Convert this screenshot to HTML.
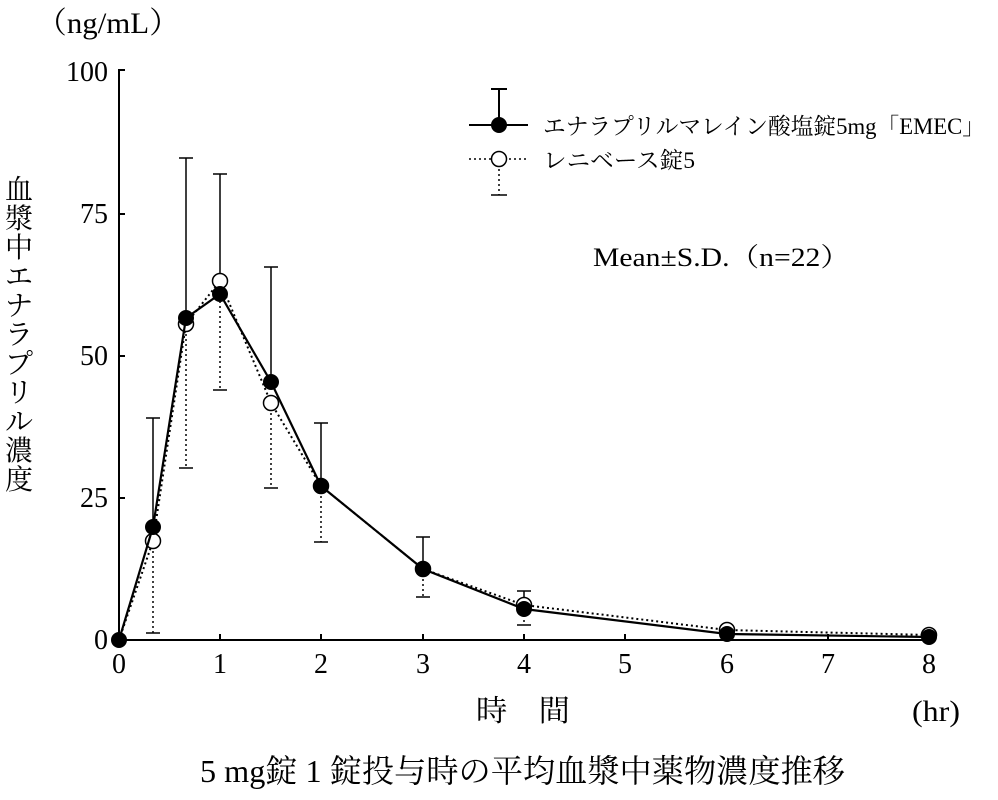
<!DOCTYPE html>
<html><head><meta charset="utf-8"><style>
body{margin:0;background:#fff;}
svg text{font-family:"Liberation Serif","Noto Serif CJK SC",serif;fill:#000;}
</style></head><body>
<svg width="998" height="795" viewBox="0 0 998 795" xmlns="http://www.w3.org/2000/svg">
<g stroke="#000" stroke-width="2" fill="none">
<polyline points="125,70 119,70 119,640 929,640"/>
<line x1="119" y1="498" x2="125" y2="498"/>
<line x1="119" y1="356" x2="125" y2="356"/>
<line x1="119" y1="214" x2="125" y2="214"/>
<line x1="220" y1="640" x2="220" y2="634"/>
<line x1="321" y1="640" x2="321" y2="634"/>
<line x1="423" y1="640" x2="423" y2="634"/>
<line x1="524" y1="640" x2="524" y2="634"/>
<line x1="625" y1="640" x2="625" y2="634"/>
<line x1="727" y1="640" x2="727" y2="634"/>
<line x1="828" y1="640" x2="828" y2="634"/>
<line x1="929" y1="640" x2="929" y2="634"/>
</g>
<g font-size="28" text-anchor="end">
<text x="108" y="81">100</text><text x="108" y="223">75</text><text x="108" y="365">50</text><text x="108" y="507">25</text><text x="108" y="649">0</text>
</g>
<g font-size="28" text-anchor="middle">
<text x="119" y="673">0</text><text x="220" y="673">1</text><text x="321" y="673">2</text><text x="423" y="673">3</text><text x="524" y="673">4</text><text x="625" y="673">5</text><text x="727" y="673">6</text><text x="828" y="673">7</text><text x="929" y="673">8</text>
</g>
<text x="36" y="33" font-size="30" textLength="144" lengthAdjust="spacingAndGlyphs">（ng/mL）</text>
<text x="476" y="721" font-size="30" textLength="94" lengthAdjust="spacingAndGlyphs">時　間</text>
<text x="912" y="721" font-size="30" textLength="48" lengthAdjust="spacingAndGlyphs">(hr)</text>
<text x="200" y="782" font-size="32" textLength="645" lengthAdjust="spacingAndGlyphs">5 mg錠 1 錠投与時の平均血漿中薬物濃度推移</text>
<text font-size="28">
<tspan x="5" y="199">血</tspan><tspan x="5" y="228">漿</tspan><tspan x="5" y="257">中</tspan><tspan x="5" y="286">エ</tspan><tspan x="5" y="315">ナ</tspan><tspan x="5" y="344">ラ</tspan><tspan x="5" y="373">プ</tspan><tspan x="5" y="402">リ</tspan><tspan x="5" y="431">ル</tspan><tspan x="5" y="460">濃</tspan><tspan x="5" y="489">度</tspan>
</text>
<text x="593" y="266" font-size="26" textLength="257" lengthAdjust="spacingAndGlyphs">Mean±S.D.（n=22）</text>
<g stroke="#000" stroke-width="1.5">
<line x1="153" y1="527" x2="153" y2="418"/><line x1="146" y1="418" x2="160" y2="418"/>
<line x1="186" y1="318" x2="186" y2="158"/><line x1="179" y1="158" x2="193" y2="158"/>
<line x1="220" y1="294" x2="220" y2="174"/><line x1="213" y1="174" x2="227" y2="174"/>
<line x1="271" y1="382" x2="271" y2="267"/><line x1="264" y1="267" x2="278" y2="267"/>
<line x1="321" y1="486" x2="321" y2="423"/><line x1="314" y1="423" x2="328" y2="423"/>
<line x1="423" y1="569" x2="423" y2="537"/><line x1="416" y1="537" x2="430" y2="537"/>
<line x1="524" y1="609" x2="524" y2="591"/><line x1="517" y1="591" x2="531" y2="591"/>
</g>
<g stroke="#000" stroke-width="1.5" stroke-dasharray="2,3">
<line x1="153" y1="541" x2="153" y2="633"/><line x1="186" y1="324" x2="186" y2="468"/><line x1="220" y1="281" x2="220" y2="390"/><line x1="271" y1="403" x2="271" y2="488"/><line x1="321" y1="486" x2="321" y2="542"/><line x1="423" y1="569" x2="423" y2="597"/><line x1="524" y1="605" x2="524" y2="625"/>
</g>
<g stroke="#000" stroke-width="1.5">
<line x1="146" y1="633" x2="160" y2="633"/><line x1="179" y1="468" x2="193" y2="468"/><line x1="213" y1="390" x2="227" y2="390"/><line x1="264" y1="488" x2="278" y2="488"/><line x1="314" y1="542" x2="328" y2="542"/><line x1="416" y1="597" x2="430" y2="597"/><line x1="517" y1="625" x2="531" y2="625"/>
</g>
<polyline fill="none" stroke="#000" stroke-width="2" stroke-dasharray="2,3" points="119,640 153,541 186,324 220,281 271,403 321,486 423,569 524,605 727,630 929,635"/>
<g fill="#fff" stroke="#000" stroke-width="1.5">
<circle cx="153" cy="541" r="7.5"/><circle cx="186" cy="324" r="7.5"/><circle cx="220" cy="281" r="7.5"/><circle cx="271" cy="403" r="7.5"/><circle cx="321" cy="486" r="7.5"/><circle cx="423" cy="569" r="7.5"/><circle cx="524" cy="605" r="7.5"/><circle cx="727" cy="630" r="7.5"/><circle cx="929" cy="635" r="7.5"/>
</g>
<polyline fill="none" stroke="#000" stroke-width="2.2" points="119,640 153,527 186,318 220,294 271,382 321,486 423,569 524,609 727,634 929,637"/>
<g fill="#000">
<circle cx="119" cy="640" r="8"/><circle cx="153" cy="527" r="8"/><circle cx="186" cy="318" r="8"/><circle cx="220" cy="294" r="8"/><circle cx="271" cy="382" r="8"/><circle cx="321" cy="486" r="8"/><circle cx="423" cy="569" r="8"/><circle cx="524" cy="609" r="8"/><circle cx="727" cy="634" r="8"/><circle cx="929" cy="637" r="8"/>
</g>
<g stroke="#000" stroke-width="2">
<line x1="469" y1="125" x2="528" y2="125"/><line x1="499" y1="125" x2="499" y2="89"/><line x1="491" y1="89" x2="507" y2="89"/>
</g>
<circle cx="499" cy="125" r="8" fill="#000"/>
<g stroke="#000" stroke-width="1.5" stroke-dasharray="2,3">
<line x1="469" y1="159" x2="528" y2="159"/><line x1="499" y1="159" x2="499" y2="195"/>
</g>
<line x1="491" y1="195" x2="507" y2="195" stroke="#000" stroke-width="1.5"/>
<circle cx="499" cy="159" r="7.5" fill="#fff" stroke="#000" stroke-width="1.5"/>
<text x="543" y="134" font-size="23" textLength="442" lengthAdjust="spacingAndGlyphs">エナラプリルマレイン酸塩錠5mg「EMEC」</text>
<text x="543" y="168" font-size="23" textLength="152" lengthAdjust="spacingAndGlyphs">レニベース錠5</text>
</svg>
</body></html>
